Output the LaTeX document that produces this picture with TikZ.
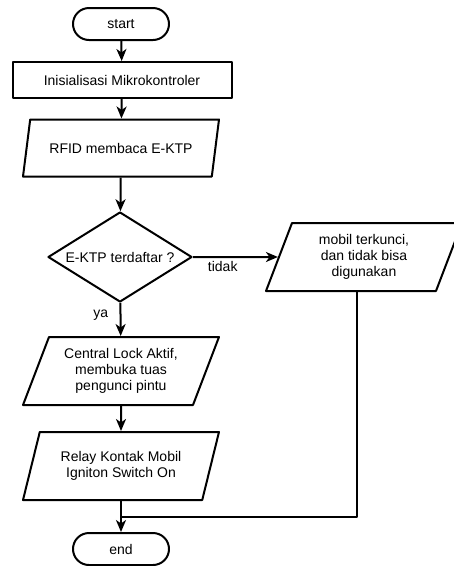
\documentclass[tikz,border=0pt]{standalone}
\usepackage{fontspec}
\setmainfont{Liberation Sans}
\usetikzlibrary{shapes.geometric,arrows.meta}
\begin{document}
\begin{tikzpicture}[x=1pt, y=-1pt, font=\fontsize{14}{16}\selectfont, line width=2pt, line join=round, >={Stealth[length=12pt,width=10pt,inset=3.5pt]},
    term/.style={draw, rounded corners=16pt, minimum width=96pt, minimum height=32pt},
    proc/.style={draw, minimum width=219pt, minimum height=36pt},
    io/.style={draw, trapezium, trapezium left angle=60, trapezium right angle=120, trapezium stretches body, minimum width=196pt, minimum height=68pt, align=center, inner sep=0pt},
    cond/.style={draw, diamond, minimum width=144pt, minimum height=90pt, inner xsep=-20pt, inner ysep=0pt}]
    \useasboundingbox (0,0) rectangle (454,566);
    \node[term] (start) at (121,24) {start};
    \node[proc] (init) at (122,80) {Inisialisasi Mikrokontroler};
    \node[io, trapezium left angle=55, trapezium right angle=125, minimum height=57pt] (rfid) at (121,148) {RFID membaca E-KTP};
    \node[cond] (cek) at (120,257) {E-KTP terdaftar ?};
    \node[io] (kunci) at (364,257) {mobil terkunci,\\dan tidak bisa\\digunakan};
    \node[io] (lock) at (121,371) {Central Lock Aktif,\\membuka tuas\\pengunci pintu};
    \node[io] (relay) at (121,466) {Relay Kontak Mobil\\Igniton Switch On};
    \node[term] (end) at (121,549) {end};
    \coordinate (gabung) at (121,517);
    \draw[->] (start) -- (init);
    \draw[->] (init) -- (rfid);
    \draw[->] (rfid) -- (cek);
    \draw[->] (cek) -- node[below, pos=0.35] {tidak} (kunci);
    \draw[->] (cek) -- node[left=8pt, pos=0.37] {ya} (lock);
    \draw[->] (lock) -- (relay);
    \draw[->] (relay) -- (end);
    \draw ([xshift=-7pt]kunci.south) |- (gabung);
\end{tikzpicture}
\end{document}
